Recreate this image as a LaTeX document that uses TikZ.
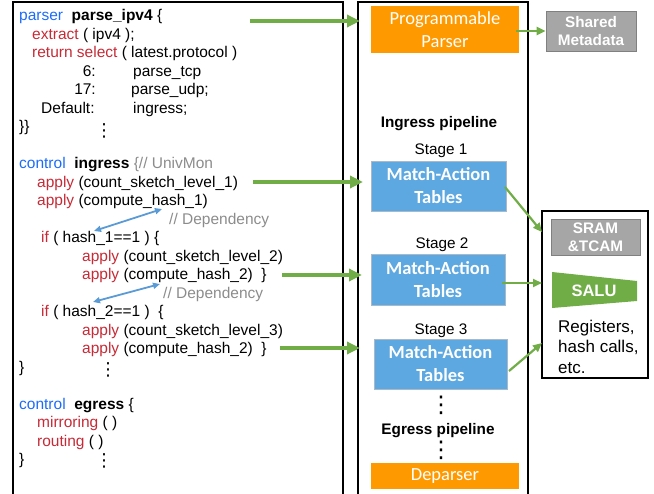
\documentclass[tikz,border=0pt]{standalone}
\usepackage{fontspec}
\setmainfont{Liberation Sans}
\newfontfamily\calibri{Carlito}
\newfontfamily\dejavu{DejaVu Sans}
\usetikzlibrary{arrows.meta}
\definecolor{kwblue}{RGB}{28,108,250}
\definecolor{kwred}{RGB}{198,42,54}
\definecolor{cmgray}{RGB}{140,140,140}
\definecolor{orng}{RGB}{255,153,0}
\definecolor{matblue}{RGB}{93,168,224}
\definecolor{matedge}{RGB}{170,185,200}
\definecolor{gbox}{RGB}{166,166,166}
\definecolor{gboxd}{RGB}{128,128,128}
\definecolor{grn}{RGB}{112,173,71}
\definecolor{arblue}{RGB}{91,155,213}
\newcommand{\kw}[1]{{\color{kwblue}#1}}
\newcommand{\fn}[1]{{\color{kwred}#1}}
\newcommand{\cm}[1]{{\color{cmgray}#1}}
\begin{document}
\begin{tikzpicture}[x=1pt,y=-1pt,
  code/.style={anchor=base west, inner sep=0pt, font=\fontsize{15.5}{18}\selectfont},
  codee/.style={anchor=base east, inner sep=0pt, font=\fontsize{15.5}{18}\selectfont},
  vdts/.style={inner sep=0pt, font=\dejavu\fontsize{18}{18}\selectfont},
  mvdts/.style={inner sep=0pt, font=\dejavu\fontsize{23}{23}\selectfont},
  lbl/.style={inner sep=0pt, font=\fontsize{15.3}{18}\selectfont},
  blbl/.style={inner sep=0pt, font=\bfseries\fontsize{15.3}{18}\selectfont},
  obox/.style={fill=orng, text=white, inner sep=0pt, align=center, font=\calibri\fontsize{18.5}{23.5}\selectfont},
  mbox/.style={fill=matblue, draw=matedge, line width=0.8pt, text=white, inner sep=0pt, align=center, font=\calibri\bfseries\fontsize{18.5}{23}\selectfont},
  gbx/.style={fill=gbox, draw=gboxd, line width=0.8pt, text=white, inner sep=0pt, align=center, font=\bfseries\fontsize{15.3}{18.5}\selectfont},
  frame/.style={draw=black, line width=1.5pt},
  garrow/.style={draw=grn, line width=4pt, -{Triangle[length=13pt,width=12pt]}},
  gthin/.style={draw=grn, line width=2.2pt, -{Triangle[length=9pt,width=8pt]}},
  barrow/.style={draw=arblue, line width=1.8pt, {Triangle[length=7pt,width=6pt]}-{Triangle[length=7pt,width=6pt]}}
]
\useasboundingbox (0,0) rectangle (654,494);
% frames
\draw[frame] (13,494) -- (13,2) -- (343,2) -- (343,494);
\draw[frame] (358,494) -- (358,2) -- (528,2) -- (528,494);
\node[frame, line width=1.3pt, minimum width=106pt, minimum height=167pt, inner sep=0pt] (rbox) at (595,294.5) {};

% code
\node[code] (l0) at (19,21) {\kw{parser}\ \ \textbf{parse\_ipv4} \{};
\node[code] (l1) at (32,39.5) {\fn{extract} ( ipv4 );};
\node[code] (l2) at (32,58) {\fn{return select} ( latest.protocol )};
\node[codee] (l3a) at (96,76.5) {6:};
\node[code] (l3b) at (133,76.5) {parse\_tcp};
\node[codee] (l4a) at (96,95) {17:};
\node[code] (l4b) at (131,95) {parse\_udp;};
\node[code] (l5a) at (41,113.5) {Default:};
\node[code] (l5b) at (133,113.5) {ingress;};
\node[code] (l6) at (19,132) {\}\}};
\node[vdts] (d6) at (104,131) {⋮};
\node[code] (l8) at (19,169) {\kw{control}\ \ \textbf{ingress} \cm{\{// UnivMon}};
\node[code] (l9) at (37,187.5) {\fn{apply} (count\_sketch\_level\_1)};
\node[code] (l10) at (37,206) {\fn{apply} (compute\_hash\_1)};
\node[code] (l11) at (169,224.5) {\cm{// Dependency}};
\node[code] (l12) at (41,243) {\fn{if} ( hash\_1==1 ) \{};
\node[code] (l13) at (82,261.5) {\fn{apply} (count\_sketch\_level\_2)};
\node[code] (l14) at (82,280) {\fn{apply} (compute\_hash\_2)\ \ \}};
\node[code] (l15) at (163,298.5) {\cm{// Dependency}};
\node[code] (l16) at (41,317) {\fn{if} ( hash\_2==1 )\ \ \{};
\node[code] (l17) at (82,335.5) {\fn{apply} (count\_sketch\_level\_3)};
\node[code] (l18) at (82,354) {\fn{apply} (compute\_hash\_2)\ \ \}};
\node[code] (l19) at (19,372.5) {\}};
\node[vdts] (d19) at (108,370) {⋮};
\node[code] (l21) at (19,409.5) {\kw{control}\ \ \textbf{egress} \{};
\node[code] (l22) at (37,428) {\fn{mirroring} ( )};
\node[code] (l23) at (37,446.5) {\fn{routing} ( )};
\node[code] (l24) at (19,465) {\}};
\node[vdts] (d24) at (104,461) {⋮};

% dependency arrows
\coordinate (dA1) at (162,209);
\coordinate (dA2) at (94,231);
\coordinate (dB1) at (160,284);
\coordinate (dB2) at (93,302);
\draw[barrow] (dA1) -- (dA2);
\draw[barrow] (dB1) -- (dB2);

% middle column
\node[obox, minimum width=148pt, minimum height=47pt] (parser) at (445,29.5) {Programmable\\Parser};
\node[blbl] (ing) at (439,124) {Ingress pipeline};
\node[lbl] (s1) at (441,151) {Stage 1};
\node[mbox, minimum width=135pt, minimum height=50pt] (mat1) at (438.5,186) {Match-Action\\Tables};
\node[lbl] (s2) at (442,245) {Stage 2};
\node[mbox, minimum width=134pt, minimum height=51pt] (mat2) at (438,279.5) {Match-Action\\Tables};
\node[lbl] (s3) at (441,331) {Stage 3};
\node[mbox, minimum width=133pt, minimum height=50pt] (mat3) at (440.5,364) {Match-Action\\Tables};
\node[mvdts] (md1) at (441,405) {⋮};
\node[blbl] (egr) at (438,431) {Egress pipeline};
\node[mvdts] (md2) at (441,450) {⋮};
\node[obox, minimum width=148pt, minimum height=26pt] (dep) at (445,476) {Deparser};

% right column
\node[gbx, minimum width=90pt, minimum height=40pt] (meta) at (591,31) {Shared\\Metadata};
\node[gbx, minimum width=89pt, minimum height=36pt] (sram) at (595.5,237) {SRAM\\\&TCAM};
\fill[grn] (552,272) -- (637,281) -- (637,301) -- (552,308) -- cycle;
\node[inner sep=0pt, text=white, font=\bfseries\fontsize{16.5}{18}\selectfont] (salu) at (594,291) {SALU};
\node[anchor=west, inner sep=0pt, align=left, font=\fontsize{17}{20.5}\selectfont] (regs) at (558,346.5) {Registers,\\hash calls,\\etc.};

% green arrows
\coordinate (c0) at (250,21);
\coordinate (c9) at (253,182);
\coordinate (c14) at (282,275);
\coordinate (c18) at (280,348);
\coordinate (m0) at (360,21);
\coordinate (m9) at (363,182);
\coordinate (m14) at (362,275);
\coordinate (m18) at (360,348);
\draw[garrow] (c0) -- (m0);
\draw[garrow] (c9) -- (m9);
\draw[garrow] (c14) -- (m14);
\draw[garrow] (c18) -- (m18);
\coordinate (p1) at (516,31);
\draw[gthin] (p1) -- (meta.west);
\coordinate (r1s) at (505,187);
\coordinate (r1e) at (542,232);
\coordinate (r2s) at (502,283);
\coordinate (r2e) at (542,283);
\coordinate (r3s) at (509,371);
\coordinate (r3e) at (542,343);
\draw[gthin] (r1s) -- (r1e);
\draw[gthin] (r2s) -- (r2e);
\draw[gthin] (r3s) -- (r3e);
\end{tikzpicture}
\end{document}
